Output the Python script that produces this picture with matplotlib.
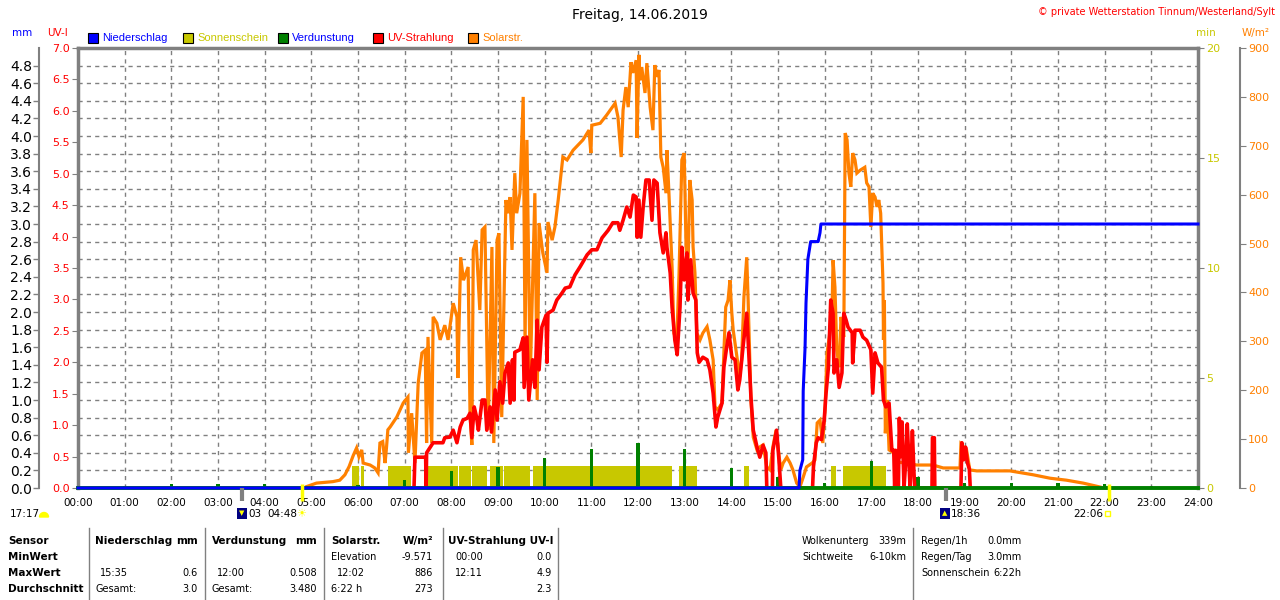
import numpy as np
import matplotlib
matplotlib.use('Agg')
import matplotlib.pyplot as plt
from matplotlib.patches import Rectangle, Wedge

plt.rcParams['font.family'] = ['DejaVu Sans']

BLUE = '#0000ff'
RED = '#ff0000'
ORANGE = '#ff8000'
GREEN = '#008000'
YEL = '#c8c800'
GRAY = '#808080'

# ---- data (time in hours) ----
sol_t = [4.90, 5.11, 5.46, 5.61, 5.72, 5.81, 5.90, 5.97, 6.02, 6.08, 6.11, 6.26, 6.36, 6.43, 6.47,
         6.53, 6.58, 6.61, 6.64, 6.69, 6.83, 6.97, 7.07, 7.08, 7.15, 7.22, 7.29, 7.37, 7.44, 7.47,
         7.50, 7.58, 7.61, 7.69, 7.76, 7.86, 7.93, 8.04, 8.12, 8.14, 8.20, 8.26, 8.36, 8.40, 8.44,
         8.47, 8.53, 8.61, 8.66, 8.72, 8.79, 8.87, 8.91, 8.98, 9.02, 9.08, 9.17, 9.21, 9.26, 9.30,
         9.36, 9.40, 9.47, 9.54, 9.58, 9.62, 9.69, 9.79, 9.84, 9.88, 9.96, 10.05, 10.07, 10.16, 10.22,
         10.29, 10.39, 10.48, 10.61, 10.82, 10.95, 10.99, 11.01, 11.19, 11.33, 11.51, 11.57, 11.64, 11.68, 11.74,
         11.79, 11.85, 11.89, 11.96, 11.98, 12.02, 12.04, 12.08, 12.15, 12.19, 12.26, 12.32, 12.36, 12.41, 12.45,
         12.49, 12.54, 12.60, 12.62, 12.66, 12.73, 12.77, 12.83, 12.88, 12.94, 12.99, 13.03, 13.07, 13.11, 13.16,
         13.18, 13.22, 13.26, 13.33, 13.39, 13.48, 13.54, 13.61, 13.65, 13.71, 13.80, 13.84, 13.88, 13.93, 13.97,
         14.01, 14.04, 14.12, 14.18, 14.22, 14.27, 14.33, 14.36, 14.42, 14.47, 14.55, 14.61, 14.68, 14.76, 14.83,
         14.89, 14.96, 15.00, 15.06, 15.11, 15.19, 15.26, 15.32, 15.40, 15.47, 15.54, 15.61, 15.73, 15.79, 15.84,
         15.90, 15.96, 16.01, 16.05, 16.10, 16.16, 16.18, 16.22, 16.26, 16.31, 16.35, 16.39, 16.41, 16.44, 16.48,
         16.52, 16.56, 16.60, 16.65, 16.69, 16.76, 16.86, 16.90, 16.95, 16.99, 17.03, 17.08, 17.12, 17.16, 17.20,
         17.25, 17.26, 17.28, 17.30, 17.34, 17.38, 17.47, 17.54, 17.76, 17.97, 18.19, 18.32, 18.54, 18.90, 18.92,
         19.04, 19.11, 19.26, 19.97, 20.47, 20.83, 21.18, 21.54, 21.90]
sol_w = [3, 10, 13, 16, 27, 44, 67, 82, 64, 78, 51, 47, 41, 31, 92,
         95, 51, 82, 119, 125, 145, 174, 186, 72, 153, 51, 215, 276, 282, 92,
         309, 92, 350, 337, 303, 333, 303, 378, 350, 225, 472, 425, 452, 153, 88,
         487, 507, 364, 528, 534, 119, 493, 92, 507, 521, 145, 589, 562, 595, 487,
         644, 562, 603, 800, 288, 712, 221, 603, 180, 542, 481, 440, 544, 507, 534,
         589, 677, 671, 691, 712, 732, 685, 742, 746, 763, 787, 759, 677, 773, 820,
         779, 871, 849, 875, 716, 886, 834, 861, 808, 869, 779, 732, 865, 841, 855,
         677, 656, 603, 691, 609, 452, 317, 297, 440, 671, 685, 493, 440, 630, 589,
         493, 440, 317, 303, 317, 330, 303, 262, 166, 160, 174, 276, 370, 384, 425,
         358, 323, 268, 227, 262, 391, 472, 384, 180, 104, 78, 84, 88, 43, 37,
         84, 119, 84, 37, 51, 63, 51, 37, 10, 2, 22, 43, 51, 57, 133,
         139, 92, 166, 276, 309, 370, 466, 411, 282, 247, 350, 317, 309, 726, 712,
         644, 616, 685, 671, 644, 650, 656, 624, 616, 534, 603, 595, 575, 589, 562,
         419, 303, 384, 112, 180, 78, 72, 53, 51, 47, 47, 47, 41, 41, 90,
         78, 37, 35, 35, 27, 20, 16, 10, 2]

uv_t = [7.20, 7.22, 7.45, 7.46, 7.47, 7.54, 7.61, 7.82, 7.86, 7.97, 8.04, 8.12, 8.19, 8.25,
        8.34, 8.40, 8.44, 8.49, 8.54, 8.58, 8.66, 8.72, 8.76, 8.83, 8.86, 8.94, 8.98, 9.04, 9.10,
        9.15, 9.22, 9.26, 9.31, 9.34, 9.36, 9.47, 9.54, 9.56, 9.62, 9.66, 9.74, 9.79, 9.84, 9.88,
        9.94, 10.03, 10.05, 10.07, 10.18, 10.26, 10.37, 10.44, 10.54, 10.65, 10.76, 10.91, 11.01, 11.12, 11.23,
        11.36, 11.46, 11.57, 11.61, 11.68, 11.76, 11.83, 11.90, 11.96, 11.98, 12.02, 12.06, 12.11, 12.17, 12.24,
        12.30, 12.34, 12.41, 12.47, 12.54, 12.60, 12.62, 12.69, 12.73, 12.79, 12.84, 12.90, 12.94, 12.99, 13.05,
        13.07, 13.13, 13.18, 13.24, 13.27, 13.31, 13.39, 13.48, 13.54, 13.61, 13.67, 13.71, 13.80, 13.84, 13.90,
        13.95, 14.01, 14.08, 14.14, 14.18, 14.25, 14.33, 14.36, 14.42, 14.47, 14.55, 14.61, 14.68, 14.74, 14.76,
        14.88, 14.89, 14.97, 15.02, 15.06, 15.74, 15.76, 15.82, 15.86, 15.93, 15.99, 16.03, 16.08, 16.13, 16.18,
        16.20, 16.26, 16.31, 16.37, 16.41, 16.46, 16.50, 16.59, 16.60, 16.65, 16.76, 16.82, 16.90, 16.99, 17.03,
        17.08, 17.14, 17.22, 17.26, 17.31, 17.38, 17.44, 17.48, 17.50, 17.52, 17.54, 17.58, 17.60, 17.63, 17.66,
        17.70, 17.74, 17.77, 17.80, 17.83, 17.85, 17.88, 17.91, 17.93, 18.30, 18.31, 18.35, 18.36, 18.92, 18.94,
        18.98, 19.02, 19.06, 19.10, 19.12]
uv_v = [0, 0.49, 0.49, 0, 0.56, 0.64, 0.72, 0.72, 0.80, 0.81, 0.92, 0.72, 0.97, 1.08,
        1.11, 1.19, 0.80, 1.29, 1.13, 0.92, 1.40, 1.40, 0.92, 1.29, 0.89, 1.56, 1.08, 1.69, 1.35,
        1.83, 1.99, 1.35, 2.04, 1.40, 2.16, 2.20, 2.39, 1.60, 2.40, 1.40, 2.04, 1.60, 2.67, 1.88,
        2.56, 2.75, 2.00, 2.78, 2.83, 2.99, 3.10, 3.18, 3.20, 3.39, 3.52, 3.71, 3.79, 3.79, 3.98,
        4.10, 4.22, 4.22, 4.10, 4.26, 4.47, 4.31, 4.66, 4.63, 3.99, 4.58, 3.99, 4.47, 4.90, 4.90,
        4.26, 4.90, 4.85, 4.06, 3.74, 4.06, 3.83, 3.42, 2.88, 2.35, 2.12, 2.88, 3.83, 3.31, 3.74,
        2.99, 3.63, 3.10, 2.99, 2.15, 2.00, 2.08, 2.04, 1.88, 1.51, 0.97, 1.13, 1.35, 1.92, 2.24,
        2.47, 2.08, 2.04, 1.56, 1.72, 2.24, 2.78, 2.35, 1.45, 0.92, 0.65, 0.49, 0.68, 0.56, 0,
        0, 0.60, 0.92, 0.45, 0, 0, 0.34, 0.72, 0.80, 0.77, 1.08, 1.51, 1.92, 2.99, 2.78,
        1.83, 2.04, 1.60, 1.83, 2.78, 2.67, 2.56, 2.47, 1.99, 2.51, 2.51, 2.40, 2.35, 2.20, 1.51,
        2.15, 1.99, 1.92, 1.40, 1.29, 1.35, 0.60, 0.60, 0, 0.60, 0, 0, 1.11, 0.50, 1.05,
        0, 0.45, 1.02, 0.50, 0, 0.40, 0.91, 0.30, 0, 0, 0.80, 0.80, 0, 0, 0.72,
        0.45, 0.65, 0.40, 0.30, 0]

rain_t = [0.00, 15.45, 15.47, 15.53, 15.54, 15.58, 15.60, 15.64, 15.67, 15.70, 15.86, 15.90, 15.92, 24.00]
rain_mm = [0.0, 0.0, 0.2, 0.32, 1.1, 1.6, 2.1, 2.6, 2.7, 2.8, 2.8, 2.9, 3.0, 3.0]

evap_h = list(range(24))
evap_mm = [0.02, 0.02, 0.05, 0.05, 0.05, 0.02, 0.03, 0.09, 0.19, 0.24, 0.34, 0.44,
           0.508, 0.44, 0.23, 0.13, 0.06, 0.31, 0.13, 0.06, 0.06, 0.06, 0.04, 0.02]

sun_start = [5.87, 6.06, 6.64, 7.47, 8.17, 8.45, 8.83, 9.13, 9.74, 12.88, 14.28, 16.14, 16.40]
sun_end = [6.03, 6.13, 7.13, 8.14, 8.42, 8.76, 9.10, 9.69, 12.72, 13.26, 14.38, 16.24, 17.31]
sun_min = [1.0] * len(sun_start)

sun_marks = [4.80, 22.10]    # Sonnenaufgang / -untergang
moon_marks = [3.52, 18.60]   # Mond

hour_labels = ['%02d:00' % h for h in range(25)]

# ---- figure ----
fig = plt.figure(figsize=(12.8, 6), dpi=100)
L, R, T, B = 78, 1198, 48, 488
rect = [L / 1280, 1 - B / 600, (R - L) / 1280, (B - T) / 600]

ax = fig.add_axes(rect)
ax.set_zorder(1)
ax.set_xlim(0, 24)
ax.set_ylim(0, 5.0)
ax.set_xticks(range(25))
ax.set_xticklabels(hour_labels, fontsize=7.5)
ax.tick_params(axis='x', length=0, pad=7)
ax.set_yticks(np.arange(0, 4.81, 0.2))
ax.set_yticklabels(['%.1f' % v for v in np.arange(0, 4.81, 0.2)], fontsize=7.2, color=BLUE)
ax.tick_params(axis='y', color=GRAY, length=4, width=1, pad=1)
ax.grid(True, color=GRAY, linestyle=(0, (3, 3)), linewidth=1)
ax.spines['left'].set_position(('outward', 28))
ax.spines['left'].set_color(GRAY)
ax.spines['left'].set_linewidth(1.5)
ax.spines['top'].set_color(GRAY)
ax.spines['top'].set_linewidth(2.5)
ax.spines['bottom'].set_color(GRAY)
ax.spines['bottom'].set_linewidth(1.5)
ax.spines['right'].set_visible(False)


def twin(z):
    a = ax.twinx()
    a.set_zorder(z)
    a.patch.set_visible(False)
    for s in a.spines.values():
        s.set_visible(False)
    return a


# Sonnenschein (min)
ax_min = twin(2)
ax_min.set_ylim(0, 20)
ax_min.bar(sun_start, sun_min, width=np.array(sun_end) - np.array(sun_start),
           align='edge', color=YEL, linewidth=0)
ax_min.set_yticks([0, 5, 10, 15, 20])
ax_min.tick_params(axis='y', colors=GRAY, labelcolor=YEL, labelsize=8, length=4, pad=2)
ax_min.spines['right'].set_visible(True)
ax_min.spines['right'].set_color(GRAY)
ax_min.spines['right'].set_linewidth(2.5)

# Verdunstung (mm)
ax_ev = twin(3)
ax_ev.set_ylim(0, 5.0)
ax_ev.bar(evap_h, evap_mm, width=0.07, color=GREEN, linewidth=0)
ax_ev.set_yticks([])

# Solarstrahlung (W/m2)
ax_sol = twin(4)
ax_sol.set_ylim(0, 900)
ax_sol.plot(sol_t, sol_w, color=ORANGE, lw=2.3, solid_joinstyle='miter')
ax_sol.set_yticks(range(0, 901, 100))
ax_sol.tick_params(axis='y', colors=GRAY, labelcolor=ORANGE, labelsize=8, length=4, pad=2)
ax_sol.spines['right'].set_visible(True)
ax_sol.spines['right'].set_position(('outward', 30))
ax_sol.spines['right'].set_color(GRAY)
ax_sol.spines['right'].set_linewidth(1.5)

# UV-Strahlung
ax_uv = twin(5)
ax_uv.set_ylim(0, 7)
ax_uv.plot(uv_t, uv_v, color=RED, lw=2.6)
ax_uv.yaxis.tick_left()
ax_uv.set_yticks(np.arange(0, 7.01, 0.5))
ax_uv.set_yticklabels(['%.1f' % v for v in np.arange(0, 7.01, 0.5)], fontsize=8)
ax_uv.tick_params(axis='y', colors=GRAY, labelcolor=RED, length=4, pad=2)
ax_uv.spines['left'].set_visible(True)
ax_uv.spines['left'].set_color(GRAY)
ax_uv.spines['left'].set_linewidth(2.5)

# Niederschlag (mm), with the Verdunstung zero line underneath
ax_rain = twin(6)
ax_rain.set_ylim(0, 5.0)
ax_rain.axhline(0, color=GREEN, lw=2.8, clip_on=False)
ax_rain.plot(rain_t, rain_mm, color=BLUE, lw=2.2, clip_on=False)
ax_rain.set_yticks([])

# sun / moon markers under the time axis
ax_rain.vlines(sun_marks, -0.03, 0.01, transform=ax_rain.get_xaxis_transform(),
               color='#ffff00', lw=2.5, clip_on=False)
ax_rain.vlines(moon_marks, -0.03, 0.0, transform=ax_rain.get_xaxis_transform(),
               color=GRAY, lw=3, clip_on=False)

# ---- overlay in pixel coordinates for texts ----
ov = fig.add_axes([0, 0, 1, 1], zorder=10)
ov.set_xlim(0, 1280)
ov.set_ylim(600, 0)
ov.axis('off')
ov.patch.set_visible(False)

ov.text(640, 15, 'Freitag, 14.06.2019', ha='center', va='center', fontsize=10)
ov.text(1275, 12, '\u00a9 private Wetterstation Tinnum/Westerland/Sylt', ha='right', va='center',
        fontsize=7, color=RED)

ov.text(22, 33, 'mm', ha='center', va='center', fontsize=7.5, color=BLUE)
ov.text(57, 33, 'UV-I', ha='center', va='center', fontsize=7.5, color=RED)
ov.text(1206, 33, 'min', ha='center', va='center', fontsize=7.5, color=YEL)
ov.text(1256, 33, 'W/m\u00b2', ha='center', va='center', fontsize=7.5, color=ORANGE)

legend = [(88, 'Niederschlag', BLUE, BLUE), (183, 'Sonnenschein', YEL, YEL),
          (278, 'Verdunstung', GREEN, BLUE), (373, 'UV-Strahlung', RED, RED),
          (468, 'Solarstr.', ORANGE, ORANGE)]
for x0, name, fc, tc in legend:
    ov.add_patch(Rectangle((x0, 33), 10, 10, facecolor=fc, edgecolor='black', lw=0.8))
    ov.text(x0 + 14, 38, name, ha='left', va='center', fontsize=8,
            family='Liberation Sans', color=tc)

# bottom time-axis annotations
ov.text(10, 514, '17:17', ha='left', va='center', fontsize=7.5)
ov.add_patch(Wedge((44, 517), 4.5, 180, 360, color='#ffff00'))
ov.add_patch(Rectangle((237, 508), 10, 11, facecolor='#000080', edgecolor='none'))
ov.text(242, 513, '\u25bc', ha='center', va='center', fontsize=5, color='#ffff00')
ov.text(248, 514, '03', ha='left', va='center', fontsize=7.5)
ov.text(267, 514, '04:48', ha='left', va='center', fontsize=7.5)
ov.text(301, 514, '\u2600', ha='center', va='center', fontsize=8, color='#ffff00')
ov.add_patch(Rectangle((940, 508), 10, 11, facecolor='#000080', edgecolor='none'))
ov.text(945, 513, '\u25b2', ha='center', va='center', fontsize=5, color='#ffff00')
ov.text(951, 514, '18:36', ha='left', va='center', fontsize=7.5)
ov.text(1073, 514, '22:06', ha='left', va='center', fontsize=7.5)
ov.add_patch(Rectangle((1105, 511), 5, 5, facecolor='none', edgecolor='#ffff00', lw=1))

# table
rows = [541, 557, 573, 589]
for xs in [89, 205, 324, 443, 558, 913]:
    ov.plot([xs, xs], [528, 600], color=GRAY, lw=1)

bold = dict(fontsize=7.5, fontweight='bold', va='center')
reg = dict(fontsize=7, va='center')
for y, s in zip(rows, ['Sensor', 'MinWert', 'MaxWert', 'Durchschnitt']):
    ov.text(8, y, s, ha='left', **bold)

ov.text(95, rows[0], 'Niederschlag', ha='left', **bold)
ov.text(198, rows[0], 'mm', ha='right', **bold)
ov.text(100, rows[2], '15:35', ha='left', **reg)
ov.text(198, rows[2], '0.6', ha='right', **reg)
ov.text(95, rows[3], 'Gesamt:', ha='left', **reg)
ov.text(198, rows[3], '3.0', ha='right', **reg)

ov.text(212, rows[0], 'Verdunstung', ha='left', **bold)
ov.text(317, rows[0], 'mm', ha='right', **bold)
ov.text(217, rows[2], '12:00', ha='left', **reg)
ov.text(317, rows[2], '0.508', ha='right', **reg)
ov.text(212, rows[3], 'Gesamt:', ha='left', **reg)
ov.text(317, rows[3], '3.480', ha='right', **reg)

ov.text(331, rows[0], 'Solarstr.', ha='left', **bold)
ov.text(433, rows[0], 'W/m\u00b2', ha='right', **bold)
ov.text(331, rows[1], 'Elevation', ha='left', **reg)
ov.text(433, rows[1], '-9.571', ha='right', **reg)
ov.text(337, rows[2], '12:02', ha='left', **reg)
ov.text(433, rows[2], '886', ha='right', **reg)
ov.text(331, rows[3], '6:22 h', ha='left', **reg)
ov.text(433, rows[3], '273', ha='right', **reg)

ov.text(448, rows[0], 'UV-Strahlung UV-I', ha='left', **bold)
ov.text(455, rows[1], '00:00', ha='left', **reg)
ov.text(552, rows[1], '0.0', ha='right', **reg)
ov.text(455, rows[2], '12:11', ha='left', **reg)
ov.text(552, rows[2], '4.9', ha='right', **reg)
ov.text(552, rows[3], '2.3', ha='right', **reg)

ov.text(802, rows[0], 'Wolkenunterg', ha='left', **reg)
ov.text(906, rows[0], '339m', ha='right', **reg)
ov.text(802, rows[1], 'Sichtweite', ha='left', **reg)
ov.text(906, rows[1], '6-10km', ha='right', **reg)
ov.text(921, rows[0], 'Regen/1h', ha='left', **reg)
ov.text(1022, rows[0], '0.0mm', ha='right', **reg)
ov.text(921, rows[1], 'Regen/Tag', ha='left', **reg)
ov.text(1022, rows[1], '3.0mm', ha='right', **reg)
ov.text(921, rows[2], 'Sonnenschein', ha='left', **reg)
ov.text(1022, rows[2], '6:22h', ha='right', **reg)

fig.savefig('out.png', dpi=100)
